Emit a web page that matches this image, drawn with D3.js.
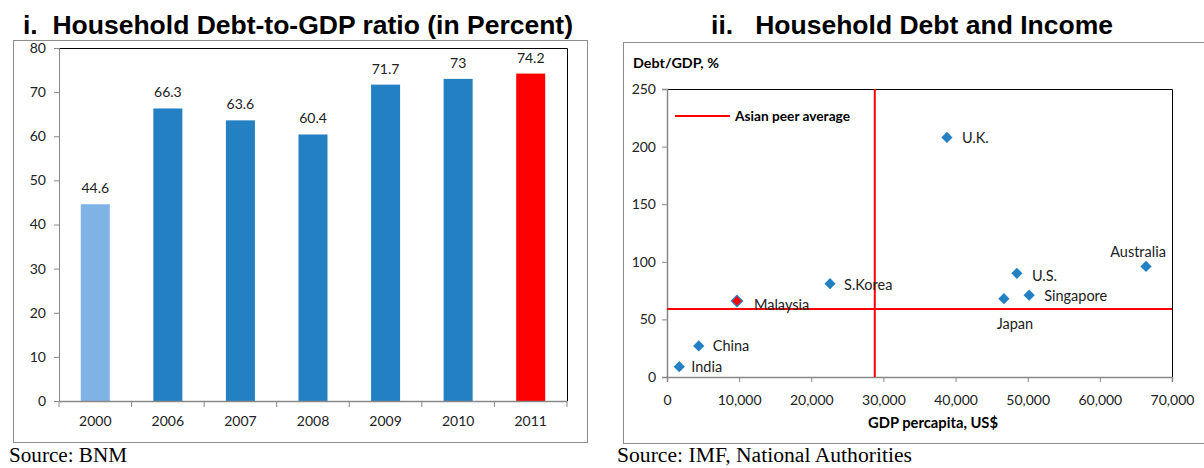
<!DOCTYPE html>
<html><head><meta charset="utf-8">
<script src="https://cdn.jsdelivr.net/npm/d3@7"></script>
<style>body{margin:0;background:#fff}svg{display:block}</style>
</head><body>
<svg id="c" width="1204" height="468"></svg>
<script>
// ---- Data: chart i ----
const years = ["2000","2006","2007","2008","2009","2010","2011"];
const debtRatio = [44.6, 66.3, 63.6, 60.4, 71.7, 73, 74.2];
const barColors = ["#7fb3e5","#2381c3","#2381c3","#2381c3","#2381c3","#2381c3","#ff0000"];
const yTicks1 = [0,10,20,30,40,50,60,70,80];
// ---- Data: chart ii ----
const countries = ["India","China","Malaysia","S.Korea","U.K.","Japan","U.S.","Singapore","Australia"];
const gdpPerCapita = [1700, 4400, 9700, 22600, 38800, 46700, 48500, 50200, 66400];
const debtToGdp = [9, 27, 66, 81, 208, 68, 90, 71, 96];
const peerAvgGdp = 28800;
const peerAvgDebt = 59;
const xTicks2 = [0,10000,20000,30000,40000,50000,60000,70000];
const yTicks2 = [0,50,100,150,200,250];

const svg = d3.select("#c");
const calib = "Lato, 'Open Sans', sans-serif";
const arial = "'Liberation Sans', Arial, sans-serif";
const times = "'Liberation Serif', 'Times New Roman', serif";

// ===== Chart i =====
svg.append("text").attr("x",23).attr("y",34).attr("font-family",arial)
  .attr("font-weight","bold").attr("font-size",26.5).style("white-space","pre")
  .attr("textLength",550).attr("lengthAdjust","spacingAndGlyphs")
  .text("i.  Household Debt-to-GDP ratio (in Percent)");
svg.append("rect").attr("x",13.5).attr("y",40.5).attr("width",574).attr("height",402).attr("fill","none").attr("stroke","#8c8c8c");
const L = {l:59, r:567, t:48, b:401};
const x1 = d3.scaleBand().domain(years).range([L.l, L.r]).paddingInner(0.6).paddingOuter(0.3);
const y1 = d3.scaleLinear().domain([0,80]).range([L.b, L.t]);
const g1 = svg.append("g");
g1.append("path").attr("d",`M${L.l},${L.t+0.5}H${L.r+0.5}V${L.b}`).attr("fill","none").attr("stroke","#000").attr("stroke-width",1);
g1.selectAll("rect.bar").data(years).join("rect").attr("class","bar")
  .attr("x",d=>x1(d)).attr("width",x1.bandwidth())
  .attr("y",(d,i)=>y1(debtRatio[i])).attr("height",(d,i)=>y1(0)-y1(debtRatio[i]))
  .attr("fill",(d,i)=>barColors[i]);
g1.selectAll("text.val").data(years).join("text").attr("class","val")
  .attr("x",d=>x1(d)+x1.bandwidth()/2).attr("y",(d,i)=>y1(debtRatio[i])-11)
  .attr("text-anchor","middle").attr("font-family",calib).attr("font-size",14).attr("fill","#222")
  .text((d,i)=>debtRatio[i]);
const ya1 = g1.append("g").attr("transform",`translate(${L.l},0)`)
  .call(d3.axisLeft(y1).tickValues(yTicks1).tickSize(5).tickPadding(8));
const xa1 = g1.append("g").attr("transform",`translate(0,${L.b})`)
  .call(d3.axisBottom(x1).tickSize(0).tickPadding(15));
const xBand = d3.scaleLinear().domain([0,7]).range([L.l, L.r]);
g1.selectAll("line.bt").data(d3.range(8)).join("line").attr("class","bt")
  .attr("x1",d=>xBand(d)).attr("x2",d=>xBand(d)).attr("y1",L.b).attr("y2",L.b+6).attr("stroke","#888");
[ya1, xa1].forEach(a=>{
  a.selectAll("path,line").attr("stroke","#888");
  a.selectAll("text").attr("font-family",calib).attr("font-size",14).attr("fill","#222");
});
xa1.select("path").attr("stroke-width",1.5);
svg.append("text").attr("x",9).attr("y",462).attr("font-family",times)
  .attr("font-size",21).attr("textLength",118).attr("lengthAdjust","spacingAndGlyphs").text("Source: BNM");

// ===== Chart ii =====
svg.append("text").attr("x",912).attr("y",34).attr("text-anchor","middle").attr("font-family",arial)
  .attr("font-weight","bold").attr("font-size",26.5).style("white-space","pre")
  .text("ii.   Household Debt and Income");
svg.append("rect").attr("x",623.5).attr("y",42.5).attr("width",585).attr("height",401).attr("fill","none").attr("stroke","#8c8c8c");
const R = {l:667, r:1172, t:89, b:377};
const x2 = d3.scaleLinear().domain([0,70000]).range([R.l, R.r]);
const y2 = d3.scaleLinear().domain([0,250]).range([R.b, R.t]);
const g2 = svg.append("g");
g2.append("path").attr("d",`M${R.l},${R.t+0.5}H${R.r+0.5}V${R.b}`).attr("fill","none").attr("stroke","#000");
const ya2 = g2.append("g").attr("transform",`translate(${R.l},0)`)
  .call(d3.axisLeft(y2).tickValues(yTicks2).tickSize(5).tickPadding(6));
const xa2 = g2.append("g").attr("transform",`translate(0,${R.b})`)
  .call(d3.axisBottom(x2).tickValues(xTicks2).tickSize(5).tickPadding(13).tickFormat(d3.format(",")));
[ya2, xa2].forEach(a=>{
  a.selectAll("path,line").attr("stroke","#888");
  a.selectAll("text").attr("font-family",calib).attr("font-size",14).attr("fill","#222");
});
ya2.select("path").attr("stroke-width",1.5);
xa2.select("path").attr("stroke-width",1.5);
// peer average lines
g2.append("line").attr("x1",x2(peerAvgGdp)).attr("x2",x2(peerAvgGdp)).attr("y1",R.t).attr("y2",R.b).attr("stroke","#ff0000").attr("stroke-width",2);
g2.append("line").attr("x1",R.l).attr("x2",R.r).attr("y1",y2(peerAvgDebt)).attr("y2",y2(peerAvgDebt)).attr("stroke","#ff0000").attr("stroke-width",2);
// legend
g2.append("line").attr("x1",675).attr("x2",730).attr("y1",116).attr("y2",116).attr("stroke","#ff0000").attr("stroke-width",2);
g2.append("text").attr("x",735).attr("y",121).attr("font-family",calib).attr("font-weight","bold").attr("font-size",13.5)
  .attr("textLength",115).attr("lengthAdjust","spacingAndGlyphs").text("Asian peer average");
// axis titles
svg.append("text").attr("x",633).attr("y",68).attr("font-family",calib).attr("font-weight","bold").attr("font-size",14)
  .attr("textLength",86).attr("lengthAdjust","spacingAndGlyphs").text("Debt/GDP, %");
svg.append("text").attr("x",868).attr("y",428).attr("font-family",calib).attr("font-weight","bold").attr("font-size",14.5)
  .attr("textLength",130).attr("lengthAdjust","spacingAndGlyphs").text("GDP percapita, US$");
// points
const diamond = d3.symbol().type(d3.symbolDiamond2).size(80);
g2.selectAll("path.pt").data(countries).join("path").attr("class","pt")
  .attr("transform",(d,i)=>`translate(${x2(gdpPerCapita[i])},${y2(debtToGdp[i])})`)
  .attr("d",diamond)
  .attr("fill",d=>d==="Malaysia"?"#ff0000":"#2381c3")
  .attr("stroke",d=>d==="Malaysia"?"#2381c3":"none").attr("stroke-width",1.2);
const labelPos = {India:[12,5,"start"],China:[14,5,"start"],Malaysia:[17,9,"start"],"S.Korea":[14,6,"start"],"U.K.":[15,6,"start"],
  Japan:[11,30,"middle"],"U.S.":[15,8,"start"],Singapore:[15,6,"start"],Australia:[-8,-9,"middle"]};
g2.selectAll("text.lab").data(countries).join("text").attr("class","lab")
  .attr("x",(d,i)=>x2(gdpPerCapita[i])+labelPos[d][0]).attr("y",(d,i)=>y2(debtToGdp[i])+labelPos[d][1])
  .attr("text-anchor",d=>labelPos[d][2]).attr("font-family",calib).attr("font-size",14.5).attr("fill","#222").text(d=>d);
svg.append("text").attr("x",617).attr("y",462).attr("font-family",times)
  .attr("font-size",20.5).attr("textLength",295).attr("lengthAdjust","spacingAndGlyphs").text("Source: IMF, National Authorities");
</script>
</body></html>
